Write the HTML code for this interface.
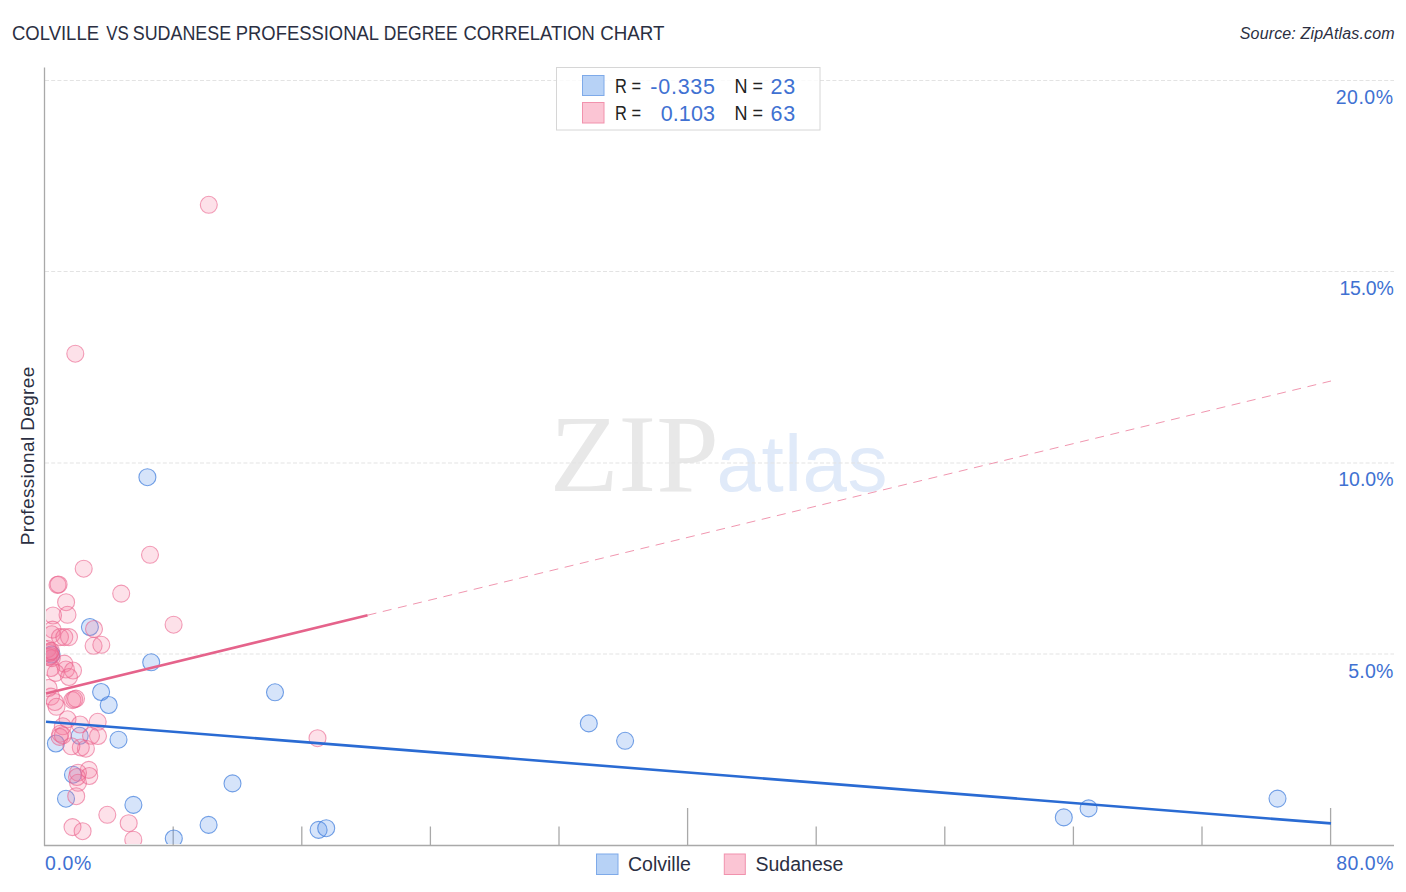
<!DOCTYPE html>
<html lang="en"><head><meta charset="utf-8"><title>Colville vs Sudanese Professional Degree Correlation Chart</title>
<style>
html,body{margin:0;padding:0;background:#fff;}
body{width:1406px;height:892px;overflow:hidden;}
svg{display:block;}
text{font-family:"Liberation Sans",sans-serif;}
.ser{font-family:"Liberation Serif",serif;}
</style></head><body>
<svg width="1406" height="892" viewBox="0 0 1406 892">
<rect width="1406" height="892" fill="#fff"/>
<defs><clipPath id="pc"><rect x="46" y="60" width="1350" height="784"/></clipPath></defs>
<text class="ser" x="549.8" y="490.5" font-size="110" fill="#e8e8e8" textLength="169" lengthAdjust="spacingAndGlyphs">ZIP</text>
<text x="716.5" y="490.5" font-size="80" fill="#e0eaf9" textLength="171" lengthAdjust="spacing">atlas</text>
<line x1="45" x2="1394" y1="80.5" y2="80.5" stroke="#e3e3e3" stroke-width="1" stroke-dasharray="4 2.2"/>
<line x1="45" x2="1394" y1="271.5" y2="271.5" stroke="#e3e3e3" stroke-width="1" stroke-dasharray="4 2.2"/>
<line x1="45" x2="1394" y1="463" y2="463" stroke="#e3e3e3" stroke-width="1" stroke-dasharray="4 2.2"/>
<line x1="45" x2="1394" y1="654" y2="654" stroke="#e3e3e3" stroke-width="1" stroke-dasharray="4 2.2"/>
<line x1="44.5" x2="44.5" y1="67.5" y2="846" stroke="#a9a9a9" stroke-width="1.3"/>
<line x1="44" x2="1394" y1="845.5" y2="845.5" stroke="#a9a9a9" stroke-width="1.3"/>
<line x1="173.2" x2="173.2" y1="826.5" y2="845.5" stroke="#a9a9a9" stroke-width="1.3"/>
<line x1="301.8" x2="301.8" y1="826.5" y2="845.5" stroke="#a9a9a9" stroke-width="1.3"/>
<line x1="430.4" x2="430.4" y1="826.5" y2="845.5" stroke="#a9a9a9" stroke-width="1.3"/>
<line x1="559.0" x2="559.0" y1="826.5" y2="845.5" stroke="#a9a9a9" stroke-width="1.3"/>
<line x1="687.6" x2="687.6" y1="808" y2="845.5" stroke="#a9a9a9" stroke-width="1.3"/>
<line x1="816.2" x2="816.2" y1="826.5" y2="845.5" stroke="#a9a9a9" stroke-width="1.3"/>
<line x1="944.8" x2="944.8" y1="826.5" y2="845.5" stroke="#a9a9a9" stroke-width="1.3"/>
<line x1="1073.4" x2="1073.4" y1="826.5" y2="845.5" stroke="#a9a9a9" stroke-width="1.3"/>
<line x1="1202.0" x2="1202.0" y1="826.5" y2="845.5" stroke="#a9a9a9" stroke-width="1.3"/>
<line x1="1330.6" x2="1330.6" y1="808" y2="845.5" stroke="#a9a9a9" stroke-width="1.3"/>
<g clip-path="url(#pc)" fill="#5a93ea" fill-opacity="0.25" stroke="#3c7adb" stroke-opacity="0.7" stroke-width="1.1">
<circle cx="147.4" cy="477.2" r="8.5"/><circle cx="89.9" cy="627" r="8.5"/><circle cx="151.2" cy="662.3" r="8.5"/><circle cx="101.1" cy="692" r="8.5"/><circle cx="108.7" cy="705" r="8.5"/><circle cx="275" cy="692.3" r="8.5"/><circle cx="55.9" cy="743.5" r="8.5"/><circle cx="79.7" cy="735.8" r="8.5"/><circle cx="118.5" cy="739.7" r="8.5"/><circle cx="73" cy="774.7" r="8.5"/><circle cx="66" cy="798.7" r="8.5"/><circle cx="133.4" cy="804.9" r="8.5"/><circle cx="232.5" cy="783.4" r="8.5"/><circle cx="173.8" cy="838.5" r="8.5"/><circle cx="208.6" cy="824.9" r="8.5"/><circle cx="318.6" cy="829.9" r="8.5"/><circle cx="326.2" cy="828.2" r="8.5"/><circle cx="588.8" cy="723.4" r="8.5"/><circle cx="625.1" cy="740.8" r="8.5"/><circle cx="1063.8" cy="817.4" r="8.5"/><circle cx="1088.6" cy="808.4" r="8.5"/><circle cx="1277.5" cy="798.6" r="8.5"/><circle cx="51.5" cy="654.5" r="8.5"/>
</g>
<g clip-path="url(#pc)" fill="#f4789d" fill-opacity="0.22" stroke="#ea5f8a" stroke-opacity="0.6" stroke-width="1.1">
<circle cx="208.8" cy="204.8" r="8.5"/><circle cx="75.3" cy="353.7" r="8.5"/><circle cx="150" cy="554.8" r="8.5"/><circle cx="83.7" cy="568.7" r="8.5"/><circle cx="57.5" cy="584.9" r="8.5"/><circle cx="58.6" cy="584.5" r="8.5"/><circle cx="121.2" cy="593.6" r="8.5"/><circle cx="66.1" cy="602.2" r="8.5"/><circle cx="67.5" cy="614.8" r="8.5"/><circle cx="53" cy="615.5" r="8.5"/><circle cx="173.6" cy="624.7" r="8.5"/><circle cx="94" cy="629" r="8.5"/><circle cx="93.6" cy="645.8" r="8.5"/><circle cx="101.3" cy="644.8" r="8.5"/><circle cx="52.6" cy="629.6" r="8.5"/><circle cx="51.8" cy="634.3" r="8.5"/><circle cx="60" cy="637.1" r="8.5"/><circle cx="64.3" cy="637.1" r="8.5"/><circle cx="69" cy="637.1" r="8.5"/><circle cx="47.8" cy="649" r="8.5"/><circle cx="48.6" cy="657" r="8.5"/><circle cx="50" cy="652" r="8.5"/><circle cx="64.3" cy="663.6" r="8.5"/><circle cx="65.9" cy="669.5" r="8.5"/><circle cx="73" cy="670.5" r="8.5"/><circle cx="55.7" cy="672.9" r="8.5"/><circle cx="69" cy="677" r="8.5"/><circle cx="51" cy="668" r="8.5"/><circle cx="51.8" cy="658.1" r="8.5"/><circle cx="48.6" cy="688" r="8.5"/><circle cx="51" cy="696.6" r="8.5"/><circle cx="72.4" cy="700.1" r="8.5"/><circle cx="74.2" cy="699.3" r="8.5"/><circle cx="76" cy="698.6" r="8.5"/><circle cx="54.9" cy="702" r="8.5"/><circle cx="56.5" cy="706.8" r="8.5"/><circle cx="67.5" cy="719.3" r="8.5"/><circle cx="80" cy="724.5" r="8.5"/><circle cx="97.7" cy="721.8" r="8.5"/><circle cx="62.8" cy="726.3" r="8.5"/><circle cx="60.4" cy="733.7" r="8.5"/><circle cx="62.8" cy="735.3" r="8.5"/><circle cx="59.6" cy="736.9" r="8.5"/><circle cx="98" cy="736" r="8.5"/><circle cx="91" cy="735.8" r="8.5"/><circle cx="80.8" cy="747.5" r="8.5"/><circle cx="85.9" cy="748.7" r="8.5"/><circle cx="71.4" cy="746.3" r="8.5"/><circle cx="88.8" cy="769.9" r="8.5"/><circle cx="89.3" cy="776" r="8.5"/><circle cx="78" cy="772.7" r="8.5"/><circle cx="78" cy="782.8" r="8.5"/><circle cx="77" cy="777" r="8.5"/><circle cx="76.2" cy="796.2" r="8.5"/><circle cx="107.3" cy="814.8" r="8.5"/><circle cx="128.7" cy="823.2" r="8.5"/><circle cx="133.3" cy="839.7" r="8.5"/><circle cx="72.5" cy="827.1" r="8.5"/><circle cx="82.6" cy="831.2" r="8.5"/><circle cx="317.5" cy="738.2" r="8.5"/><circle cx="49.5" cy="653" r="8.5"/><circle cx="50.6" cy="656" r="8.5"/><circle cx="51" cy="651" r="8.5"/>
</g>
<line x1="46" y1="721.7" x2="1331" y2="823.4" stroke="#2a6bd3" stroke-width="2.6"/>
<line x1="46" y1="693.4" x2="367.6" y2="615.2" stroke="#e5638b" stroke-width="2.6"/>
<line x1="367.6" y1="615.2" x2="1331" y2="381" stroke="#ee8aa6" stroke-width="0.9" stroke-dasharray="9 6.6"/>
<text y="39.9" font-size="20" fill="#2b2f42"><tspan x="12.0" textLength="87" lengthAdjust="spacingAndGlyphs">COLVILLE</tspan> <tspan x="106.3" textLength="22.5" lengthAdjust="spacingAndGlyphs">VS</tspan> <tspan x="132.8" textLength="98.3" lengthAdjust="spacingAndGlyphs">SUDANESE</tspan> <tspan x="235.8" textLength="142.5" lengthAdjust="spacingAndGlyphs">PROFESSIONAL</tspan> <tspan x="383.8" textLength="73.8" lengthAdjust="spacingAndGlyphs">DEGREE</tspan> <tspan x="463.4" textLength="131.5" lengthAdjust="spacingAndGlyphs">CORRELATION</tspan> <tspan x="600.3" textLength="64.2" lengthAdjust="spacingAndGlyphs">CHART</tspan></text>
<text x="1394.6" y="39.2" font-size="16" font-style="italic" fill="#2b2f42" text-anchor="end" textLength="154.8" lengthAdjust="spacing">Source: ZipAtlas.com</text>
<text transform="translate(33.8,545.3) rotate(-90)" font-size="19" fill="#2b2f42" textLength="178.6" lengthAdjust="spacing">Professional Degree</text>
<text x="1393.5" y="104" font-size="19.5" letter-spacing="0.5" fill="#4071d2" text-anchor="end">20.0%</text>
<text x="1393.5" y="294.8" font-size="19.5" letter-spacing="-0.25" fill="#4071d2" text-anchor="end">15.0%</text>
<text x="1393.5" y="486.3" font-size="19.5" letter-spacing="0" fill="#4071d2" text-anchor="end">10.0%</text>
<text x="1393.5" y="677.8" font-size="19.5" letter-spacing="0.2" fill="#4071d2" text-anchor="end">5.0%</text>
<text x="45" y="870" font-size="19.5" letter-spacing="0.6" fill="#4071d2">0.0%</text>
<text x="1394" y="870" font-size="19.5" letter-spacing="0.5" fill="#4071d2" text-anchor="end">80.0%</text>
<rect x="556.5" y="67.5" width="263.5" height="62.5" fill="#fff" fill-opacity="0.82" stroke="#d6d6d6" stroke-width="1"/>
<rect x="582.5" y="75.5" width="21.5" height="20" fill="#b7d2f6" stroke="#7eaae9" stroke-width="1"/>
<rect x="582.5" y="102.5" width="21.5" height="20.5" fill="#fbc5d4" stroke="#f192ad" stroke-width="1"/>
<text y="93" font-size="19.5" fill="#222"><tspan x="615" textLength="26" lengthAdjust="spacingAndGlyphs">R =</tspan> <tspan x="650.3" y="93.5" font-size="21.5" letter-spacing="0.75" fill="#4071d2">-0.335</tspan> <tspan x="734.5" y="93" textLength="28.5" lengthAdjust="spacingAndGlyphs">N =</tspan> <tspan x="770.5" y="93.5" font-size="21.5" letter-spacing="0.75" fill="#4071d2">23</tspan></text>
<text y="120" font-size="19.5" fill="#222"><tspan x="615" textLength="26" lengthAdjust="spacingAndGlyphs">R =</tspan> <tspan x="660.7" y="120.5" font-size="21.5" letter-spacing="0.1" fill="#4071d2">0.103</tspan> <tspan x="734.5" y="120" textLength="28.5" lengthAdjust="spacingAndGlyphs">N =</tspan> <tspan x="770.5" y="120.5" font-size="21.5" letter-spacing="0.75" fill="#4071d2">63</tspan></text>
<rect x="596.5" y="854" width="21.5" height="20.5" fill="#b7d2f6" stroke="#7eaae9" stroke-width="1"/>
<text x="628" y="870.9" font-size="19.5" fill="#2b2f42">Colville</text>
<rect x="724.3" y="854" width="21" height="20.5" fill="#fbc5d4" stroke="#f192ad" stroke-width="1"/>
<text x="755.5" y="870.9" font-size="19.5" fill="#2b2f42">Sudanese</text>
</svg>
</body></html>
